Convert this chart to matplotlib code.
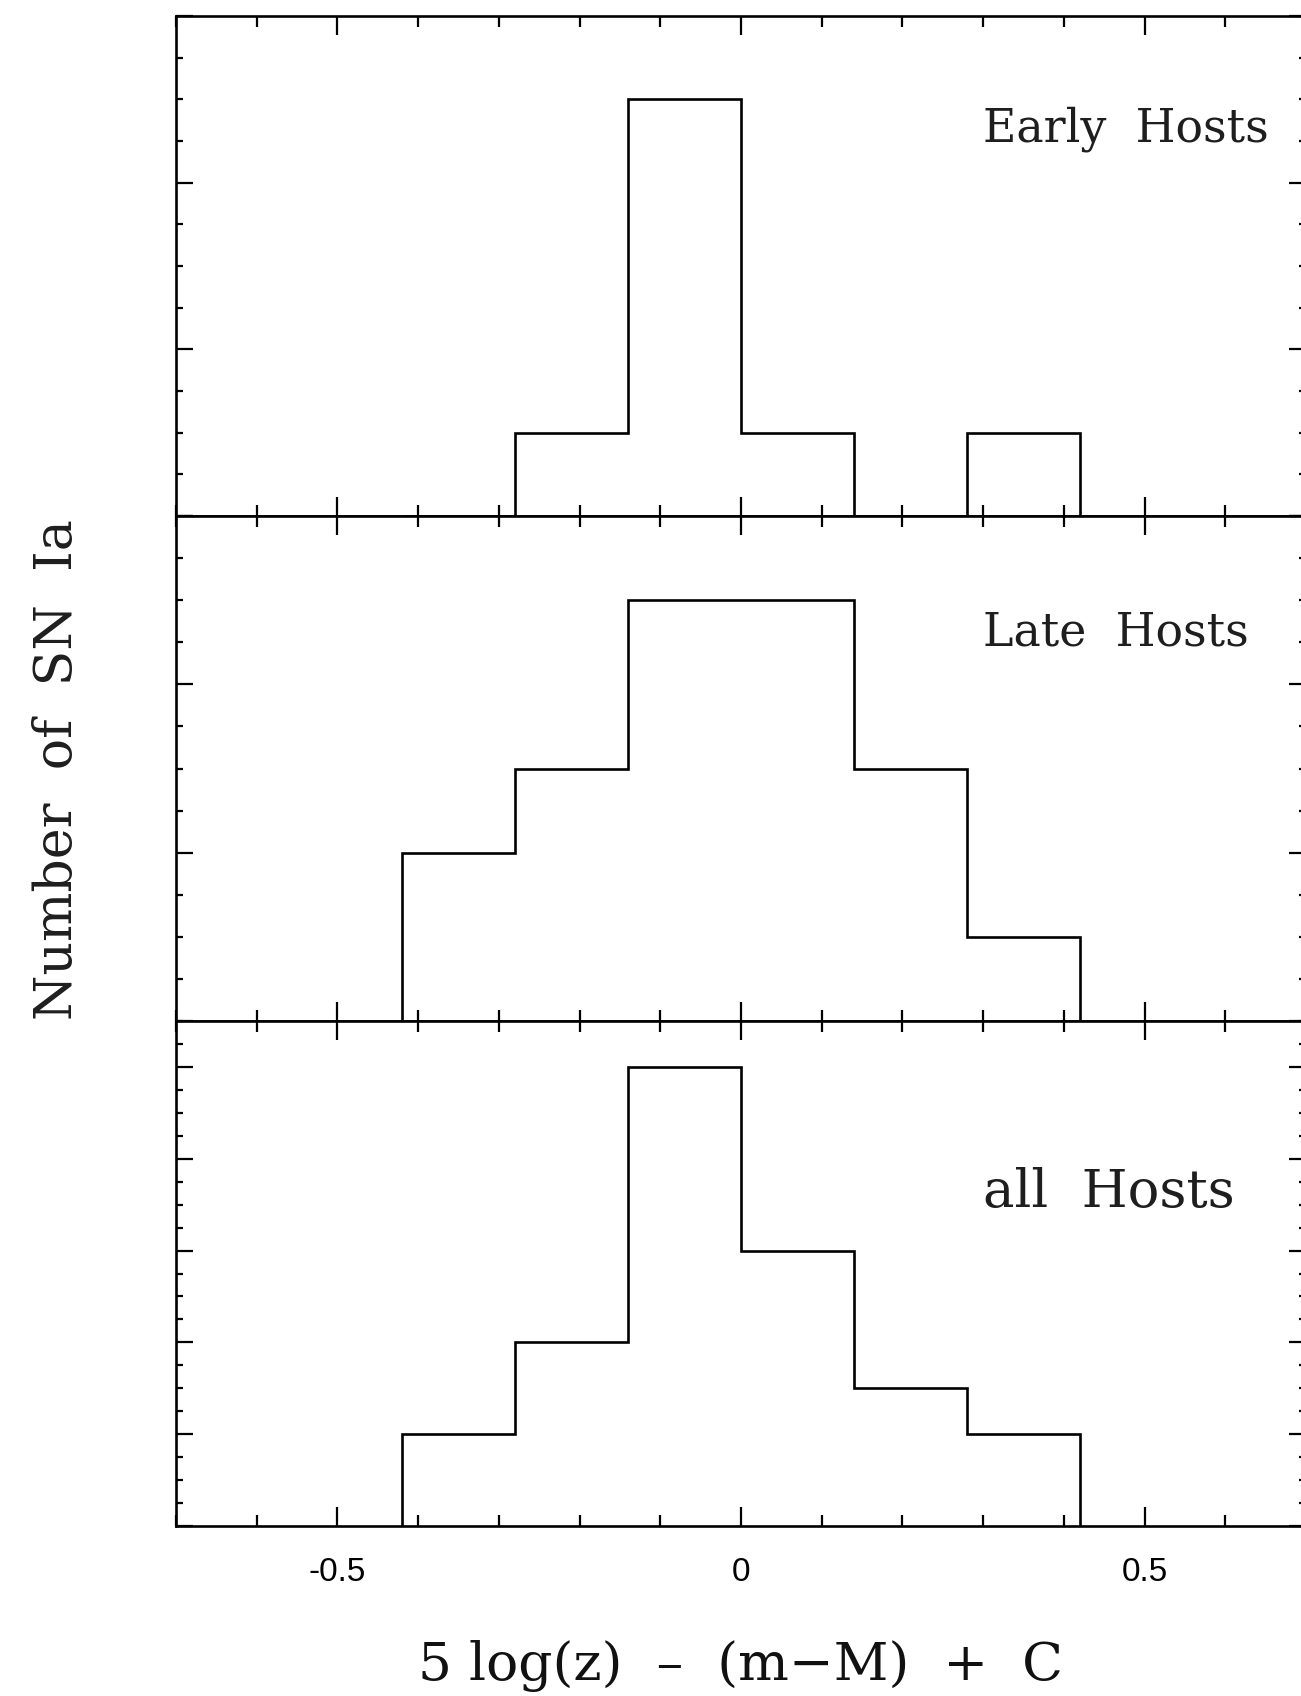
import matplotlib
matplotlib.use("Agg")
import matplotlib.pyplot as plt
from matplotlib.ticker import MultipleLocator, FixedLocator

# Histogram bins of the Hubble-diagram residual
bin_edges = [-0.42, -0.28, -0.14, 0.0, 0.14, 0.28, 0.42]
early_counts = [0, 1, 5, 1, 0, 1]
late_counts = [2, 3, 5, 5, 3, 1]
all_counts = [2, 4, 10, 6, 3, 2]

panel_names = ["Early  Hosts", "Late  Hosts", "all  Hosts"]
panel_counts = [early_counts, late_counts, all_counts]
panel_ylims = [(0, 6), (0, 6), (0, 11)]

x_major = [-0.5, 0.0, 0.5]
x_labels = ["-0.5", "0", "0.5"]

W, H = 1301, 1696
fig = plt.figure(figsize=(W / 100, H / 100), dpi=100)

left_px, right_px = 176, 1306
rows_px = [(16, 516), (516, 1021), (1021, 1526)]
label_baseline_px = [141.7, 645, 1207]
label_sizes = [33, 33, 38]

serif = ["DejaVu Serif"]
for i, (top, bot) in enumerate(rows_px):
    ax = fig.add_axes([left_px / W, 1 - bot / H, (right_px - left_px) / W, (bot - top) / H])
    ax.stairs(panel_counts[i], bin_edges, color="black", linewidth=1.9)
    ax.set_xlim(-0.7, 0.7)
    ax.set_ylim(*panel_ylims[i])
    ax.xaxis.set_major_locator(FixedLocator(x_major))
    ax.xaxis.set_minor_locator(MultipleLocator(0.1))
    ax.yaxis.set_major_locator(MultipleLocator(2))
    ax.yaxis.set_minor_locator(MultipleLocator(0.5))
    ax.tick_params(axis="both", which="both", direction="in", top=True, right=True,
                   color="black", width=1.6)
    ax.tick_params(axis="x", which="major", length=14)
    ax.tick_params(axis="x", which="minor", length=8)
    ax.tick_params(axis="y", which="major", length=12)
    ax.tick_params(axis="y", which="minor", length=5)
    ax.tick_params(axis="y", labelleft=False)
    for s in ax.spines.values():
        s.set_linewidth(1.9)
    ax.text((983 - left_px) / (right_px - left_px),
            (bot - label_baseline_px[i]) / (bot - top), panel_names[i],
            transform=ax.transAxes, ha="left", va="baseline",
            fontsize=label_sizes[i], family=serif, color="#1e1e1e")
    if i < 2:
        ax.tick_params(axis="x", labelbottom=False)
    else:
        ax.set_xticklabels(x_labels, family=["Liberation Sans", "DejaVu Sans"],
                           fontsize=24)
        ax.tick_params(axis="x", pad=22)

fig.text(740 / W, 1 - 1680 / H, "5 log(z)  \u2013  (m\u2212M)  +  C",
         ha="center", va="baseline", fontsize=38.5, family=serif, color="#111111")
fig.text(72 / W, 1 - 770 / H, "Number  of  SN  Ia", rotation=90, rotation_mode="anchor",
         ha="center", va="baseline", fontsize=37.5, family=serif, color="#1e1e1e")

fig.savefig("out.png", dpi=100, facecolor="white")
